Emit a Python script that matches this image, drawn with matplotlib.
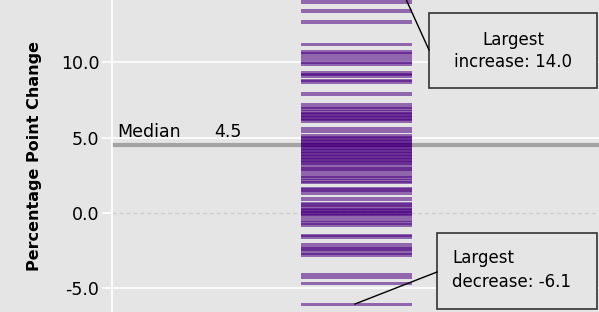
import numpy as np
import matplotlib
matplotlib.use('Agg')
import matplotlib.pyplot as plt
from matplotlib.patches import Rectangle
from matplotlib.lines import Line2D

# percentage point change per item
changes = [14.0, 13.4, 12.7, 11.2,
           10.7, 10.6, 10.4, 10.2, 10.0, 9.9,
           9.3, 9.2, 9.1, 8.8, 8.7, 7.9, 7.2, 7.0,
           6.9, 6.7, 6.6, 6.5, 6.4, 6.3, 6.2, 6.1,
           5.6, 5.4, 5.1, 5.0, 4.9, 4.8, 4.7, 4.6, 4.5, 4.5, 4.4, 4.3, 4.2,
           4.1, 4.0, 3.9, 3.8, 3.7, 3.6, 3.5, 3.4, 3.3, 3.2, 3.0, 2.9, 2.8,
           2.6, 2.4, 2.3, 2.1, 2.0, 1.6, 1.5, 1.3, 0.9,
           0.6, 0.5, 0.3, 0.2, 0.1, 0.0, -0.1, -0.2,
           -0.5, -0.7, -0.8, -1.5, -1.6,
           -2.1, -2.3, -2.4, -2.5, -2.7, -2.8,
           -4.1, -4.3, -4.7, -6.1]
median_val = 4.5
yticks = [-5.0, 0.0, 5.0, 10.0]

W, H = 599, 312
bg = '#e5e5e5'
plt.rcParams['font.family'] = 'DejaVu Sans'

fig = plt.figure(figsize=(W / 100, H / 100), dpi=100)
fig.patch.set_facecolor(bg)
ax = fig.add_axes([112 / W, 0, 1 - 112 / W, 1])
ax.set_facecolor(bg)

ax.set_xlim(0, 1)
ax.set_ylim(-6.6, 14.15)

# grid
for t in yticks:
    if t == 0:
        ax.axhline(t, color='#cfcfcf', lw=1, ls=(0, (3, 2)), zorder=1)
    else:
        ax.axhline(t, color='white', lw=1.2, zorder=1)

# strips
x0, x1 = (301 - 112) / (W - 112), (412 - 112) / (W - 112)
for v in changes:
    ax.fill_between([x0, x1], v - 0.12, v + 0.12, color='#4a0080', alpha=0.55,
                    lw=0, zorder=3)

# median line
ax.axhline(median_val, color='#a3a3a3', lw=3, zorder=2)

ax.set_yticks(yticks)
ax.set_yticklabels(['%.1f' % t for t in yticks], fontsize=12.5)
ax.tick_params(axis='y', length=7, width=1.2, color='white', pad=2)
ax.set_xticks([])
for s in ['top', 'right', 'bottom']:
    ax.spines[s].set_visible(False)
ax.spines['left'].set_color('white')
ax.spines['left'].set_linewidth(1.2)
ax.set_ylabel('Percentage Point Change', fontsize=11.5, fontweight='bold', labelpad=14)


def fx(px):
    return px / W


def fy(py):
    return 1 - py / H


fig.text(fx(117), fy(137), 'Median', fontsize=12.5, va='baseline')
fig.text(fx(214), fy(137), '%.1f' % median_val, fontsize=12.5, va='baseline')

# annotation boxes
fig.add_artist(Rectangle((fx(429), fy(88)), fx(597) - fx(429), fy(13) - fy(88),
                         transform=fig.transFigure, fc=bg, ec='#333333', lw=1.2))
fig.text(fx(513), fy(51), 'Largest\nincrease: %.1f' % max(changes), fontsize=12,
         ha='center', va='center', linespacing=1.3)
fig.add_artist(Line2D([fx(429), fx(405)], [fy(50), fy(-3)], transform=fig.transFigure,
                      color='black', lw=1))

fig.add_artist(Rectangle((fx(437), fy(309)), fx(597) - fx(437), fy(233) - fy(309),
                         transform=fig.transFigure, fc=bg, ec='#333333', lw=1.2))
fig.text(fx(452), fy(270), 'Largest\ndecrease: %.1f' % min(changes), fontsize=12,
         ha='left', va='center', linespacing=1.4)
fig.add_artist(Line2D([fx(437), fx(355)], [fy(272), fy(304)], transform=fig.transFigure,
                      color='black', lw=1))

fig.savefig('out.png', dpi=100, facecolor=bg)
